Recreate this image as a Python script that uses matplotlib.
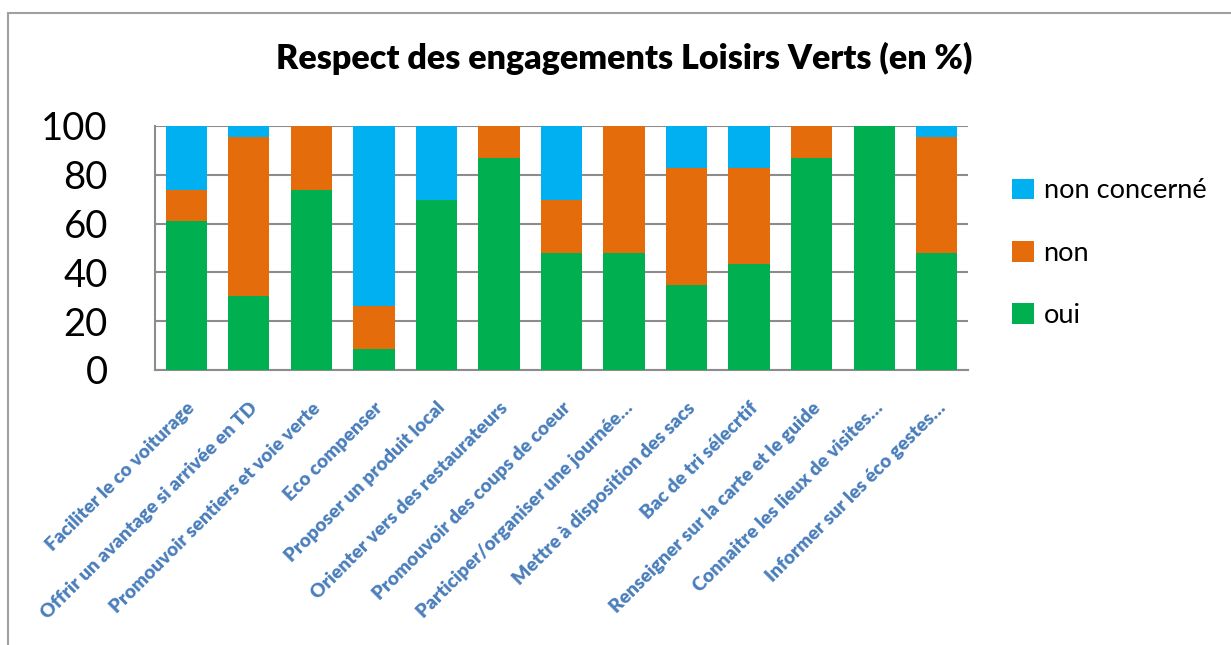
import numpy as np
import matplotlib.pyplot as plt
from matplotlib.patches import Rectangle

# engagement items (x axis)
categories = [
    "Faciliter le co voiturage",
    "Offrir un avantage si arrivée en TD",
    "Promouvoir sentiers et voie verte",
    "Eco compenser",
    "Proposer un produit local",
    "Orienter vers des restaurateurs",
    "Promouvoir des coups de coeur",
    "Participer/organiser une journée…",
    "Mettre à disposition des sacs",
    "Bac de tri sélecrtif",
    "Renseigner sur la carte et le guide",
    "Connaitre les lieux de visites…",
    "Informer sur les éco gestes…",
]

# percentages
oui = [60.9, 30.4, 73.9, 8.7, 69.6, 87.0, 47.8, 47.8, 34.8, 43.5, 87.0, 100.0, 47.8]
non = [13.0, 65.2, 26.1, 17.4, 0.0, 13.0, 21.7, 52.2, 47.8, 39.1, 13.0, 0.0, 47.8]
non_concerne = [26.1, 4.3, 0.0, 73.9, 30.4, 0.0, 30.4, 0.0, 17.4, 17.4, 0.0, 0.0, 4.3]

FONT = ["Lato", "DejaVu Sans"]
plt.rcParams['font.family'] = FONT

fig = plt.figure(figsize=(12.31, 6.45), dpi=100)
ax = fig.add_axes([155 / 1231, 1 - 370 / 645, (968 - 155) / 1231, (370 - 126) / 645])

x = np.arange(len(categories))
w = 0.66
ax.bar(x, oui, w, color="#00B050", label="oui", zorder=3)
ax.bar(x, non, w, bottom=oui, color="#E46C0A", label="non", zorder=3)
bottom2 = np.array(oui) + np.array(non)
ax.bar(x, non_concerne, w, bottom=bottom2, color="#00B0F0", label="non concerné", zorder=3)

ax.set_xlim(-0.5, len(categories) - 0.5)
ax.set_ylim(0, 100)
ax.set_yticks(range(0, 101, 20))
ax.yaxis.grid(True, color="#8c8c8c", linewidth=1.5, zorder=0)
ax.tick_params(axis="both", length=0)
ax.tick_params(axis="y", labelsize=27.5, pad=34)
for s in ["top", "right"]:
    ax.spines[s].set_visible(False)
for s in ["left", "bottom"]:
    ax.spines[s].set_color("#8c8c8c")
    ax.spines[s].set_linewidth(1.5)

ax.set_xticks(x)
ax.set_xticklabels(categories, rotation=45, ha="right", rotation_mode="anchor",
                   color="#4A7EBB", fontweight="heavy", fontsize=13.8)
ax.tick_params(axis="x", pad=21)

handles, labels = ax.get_legend_handles_labels()
leg = fig.legend(handles[::-1], labels[::-1], loc="upper left",
                 bbox_to_anchor=(988 / 1231, 1 - 154 / 645), frameon=False,
                 fontsize=19.5, handlelength=0.8, handleheight=0.8,
                 handletextpad=0.35, labelspacing=1.38)

fig.text(624 / 1231, 1 - 58 / 645, "Respect des engagements Loisirs Verts (en %)",
         ha="center", va="center", fontsize=24.5, fontweight="heavy")

# chart border
fig.patches.append(Rectangle((8 / 1231, -0.1), 1.5, 1 - 13 / 645 + 0.1,
                             transform=fig.transFigure, fill=False,
                             edgecolor="#a0a0a0", linewidth=1.5))

fig.savefig("out.png", dpi=100)
